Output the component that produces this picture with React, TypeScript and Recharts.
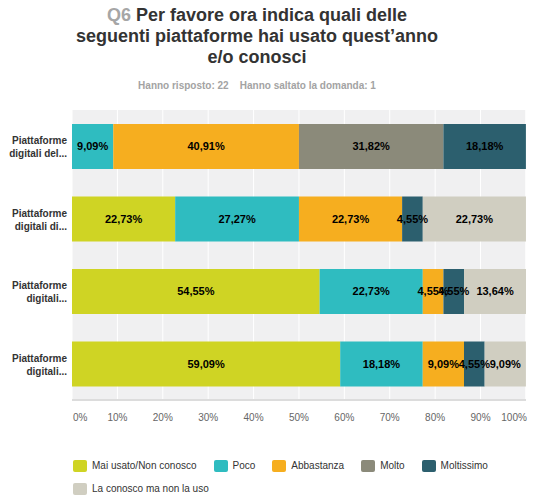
import React from "react"
import { BarChart, Bar, XAxis, YAxis, CartesianGrid, LabelList } from "recharts"

const categories = [
  "Piattaforme digitali del...",
  "Piattaforme digitali di...",
  "Piattaforme digitali...",
  "Piattaforme digitali...",
]

const seriesNames = ["Mai usato/Non conosco", "Poco", "Abbastanza", "Molto", "Moltissimo", "La conosco ma non la uso"]
const maiUsato = [0, 22.73, 54.55, 59.09]
const poco = [9.09, 27.27, 22.73, 18.18]
const abbastanza = [40.91, 22.73, 4.55, 9.09]
const molto = [31.82, 0, 0, 0]
const moltissimo = [18.18, 4.55, 4.55, 4.55]
const laConosco = [0, 22.73, 13.64, 9.09]

const xTicks = [0, 10, 20, 30, 40, 50, 60, 70, 80, 90, 100]

const COLORS = ["#cfd424", "#2fbcc0", "#f6ae1f", "#8b8a7a", "#2c5f6e", "#d0cec1"]
const KEYS = ["s0", "s1", "s2", "s3", "s4", "s5"]
const FONT = "Arial, 'Liberation Sans', sans-serif"

const values = [maiUsato, poco, abbastanza, molto, moltissimo, laConosco]
const data = categories.map((name, i) => {
  const row: Record<string, string | number> = { name }
  values.forEach((v, j) => (row[KEYS[j]] = v[i]))
  return row
})

const fmt = (v: any) => (Number(v) > 0 ? Number(v).toFixed(2).replace(".", ",") + "%" : "")

function CategoryTick({ x, y, payload }: any) {
  const s = String(payload.value)
  const idx = s.indexOf(" ")
  const lines = [s.slice(0, idx), s.slice(idx + 1)]
  return (
    <text x={x + 3} y={y} textAnchor="end" fontSize={10} fontWeight="bold" fill="#333" fontFamily={FONT}>
      <tspan x={x + 3} dy={-2}>{lines[0]}</tspan>
      <tspan x={x + 3} dy={13}>{lines[1]}</tspan>
    </text>
  )
}

function PercentTick({ x, y, payload }: any) {
  const v = payload.value
  const anchor = v === 0 ? "start" : v === 100 ? "end" : "middle"
  const dx = v === 0 ? 1 : v === 100 ? 1 : 0
  return (
    <text x={x + dx} y={y} dy={13} textAnchor={anchor} fontSize={10} fill="#666" fontFamily={FONT}>
      {v}%
    </text>
  )
}

export default function App() {
  return (
    <div style={{ position: "absolute", left: 0, top: 0, width: 545, height: 500, background: "#fff", fontFamily: FONT }}>
      <div style={{ position: "absolute", left: 0, top: 5, width: 514, textAlign: "center", fontSize: 18, fontWeight: "bold", color: "#333", lineHeight: "21px" }}>
        <div><span style={{ color: "#a6a6a6" }}>Q6</span> Per favore ora indica quali delle</div>
        <div>seguenti piattaforme hai usato quest’anno</div>
        <div>e/o conosci</div>
      </div>
      <div style={{ position: "absolute", left: 0, top: 80, width: 514, textAlign: "center", fontSize: 10, fontWeight: "bold", color: "#a3a3a3", whiteSpace: "pre" }}>
        {"Hanno risposto: 22    Hanno saltato la domanda: 1"}
      </div>
      <div style={{ position: "absolute", left: 0, top: 0 }}>
        <BarChart
          width={545}
          height={440}
          data={data}
          layout="vertical"
          margin={{ top: 110, right: 19, left: 0, bottom: 10 }}
          barSize={45}
        >
          <CartesianGrid horizontal={false} fill="#f0f0f1" stroke="#ffffff" strokeWidth={1} />
          <XAxis
            type="number"
            domain={[0, 100]}
            ticks={xTicks}
            tick={<PercentTick />}
            tickLine={false}
            axisLine={{ stroke: "#dcdcdc", strokeWidth: 2 }}
            height={30}
            interval={0}
          />
          <YAxis type="category" dataKey="name" width={72} tick={<CategoryTick />} axisLine={false} tickLine={false} />
          {KEYS.map((k, j) => (
            <Bar key={k} dataKey={k} name={seriesNames[j]} stackId="a" fill={COLORS[j]} isAnimationActive={false}>
              <LabelList dataKey={k} position="center" formatter={fmt} fill="#000" fontSize={11} fontWeight="bold" fontFamily={FONT} />
            </Bar>
          ))}
        </BarChart>
      </div>
      <div style={{ position: "absolute", left: 73, top: 458, width: 460, display: "flex", flexWrap: "wrap", rowGap: 8, fontSize: 10, color: "#333" }}>
        {seriesNames.map((n) => (
          <div key={n} style={{ display: "flex", alignItems: "center", marginRight: 17, height: 15 }}>
            <span style={{ display: "inline-block", width: 14, height: 12, borderRadius: 2, background: COLORS[seriesNames.indexOf(n)], marginRight: 5 }} />
            {n}
          </div>
        ))}
      </div>
    </div>
  )
}
